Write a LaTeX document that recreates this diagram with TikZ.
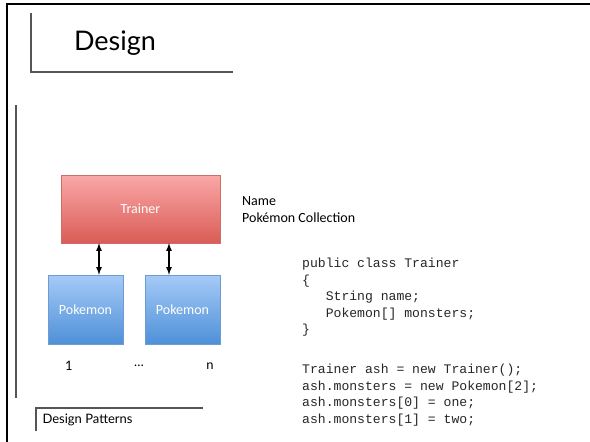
\documentclass[tikz,border=0pt]{standalone}
\usepackage{fontspec}
\setmainfont{Carlito}
\setmonofont{Liberation Mono}
\newfontfamily\gillfont{Lato}
\definecolor{trainertop}{RGB}{250,168,168}
\definecolor{trainerbot}{RGB}{218,92,86}
\definecolor{trainerline}{RGB}{205,110,105}
\definecolor{pokemontop}{RGB}{166,202,247}
\definecolor{pokemonbot}{RGB}{78,144,216}
\definecolor{pokemonline}{RGB}{110,155,210}
\definecolor{ruleline}{RGB}{85,85,85}
\begin{document}
\begin{tikzpicture}[x=1pt,y=-1pt,>=latex,
                    trainer node/.style={rectangle,draw=trainerline,top color=trainertop,bottom color=trainerbot,
                                         minimum width=159pt,minimum height=68pt,text=white,font=\fontsize{14}{16}\selectfont},
                    pokemon node/.style={rectangle,draw=pokemonline,top color=pokemontop,bottom color=pokemonbot,
                                         minimum width=75pt,minimum height=69pt,text=white,font=\fontsize{14}{16}\selectfont},
                    code node/.style={anchor=north west,inner sep=0pt,align=left,text=black!85,font=\ttfamily\fontsize{13.1}{16.5}\selectfont},
                    rule/.style={draw=ruleline,line width=1.4pt}
                   ]
  \useasboundingbox (0,0) rectangle (590,442);
  % frame of the slide
  \draw[line width=2pt] (590,4) -- (6.7,4) -- (6.7,442);
  % title
  \coordinate (tt) at (31,13);
  \coordinate (tc) at (31,72);
  \coordinate (tr) at (233,72);
  \draw[rule] (tt) -- (tc) -- (tr);
  \node[font=\gillfont\fontsize{27}{32}\selectfont] (title) at (115,43) {Design};
  \coordinate (lt) at (16,105);
  \coordinate (lb) at (16,398);
  \draw[rule,line width=1.2pt] (lt) -- (lb);
  % the diagram
  \node[trainer node] (T) at (140.5,209) {Trainer};
  \node[pokemon node] (P1) at (85.5,309.5) {Pokemon};
  \node[pokemon node] (P2) at (182.5,309.5) {Pokemon};
  \path[<->,line width=1.6pt]
    ([xshift=13.5pt]P1.north) edge ([xshift=13.5pt]P1.north |- T.south)
    ([xshift=-13.5pt]P2.north) edge ([xshift=-13.5pt]P2.north |- T.south);
  \node[font=\gillfont\fontsize{13}{15}\selectfont] (one) at (69,366) {1};
  \node[font=\gillfont\fontsize{13}{15}\selectfont] (dots) at (139,366) {…};
  \node[font=\gillfont\fontsize{13}{15}\selectfont] (many) at (210,366) {n};
  \node[anchor=west,align=left,inner sep=0pt,font=\fontsize{14}{17}\selectfont] (fields) at (242,210) {Name\\Pokémon Collection};
  % the code
  \node[code node] (cls) at (302,258) {public class Trainer\\
\{\\
\ \ \ String name;\\
\ \ \ Pokemon[] monsters;\\
\}};
  \node[code node] (main) at (302,364) {Trainer ash = new Trainer();\\
ash.monsters = new Pokemon[2];\\
ash.monsters[0] = one;\\
ash.monsters[1] = two;};
  % footer
  \coordinate (ft) at (36,431);
  \coordinate (fc) at (36,408);
  \coordinate (fr) at (203,408);
  \draw[rule,line width=1.2pt] (ft) -- (fc) -- (fr);
  \node[anchor=west,font=\gillfont\fontsize{13}{15}\selectfont] (foot) at (39,420) {Design Patterns};
\end{tikzpicture}
\end{document}
